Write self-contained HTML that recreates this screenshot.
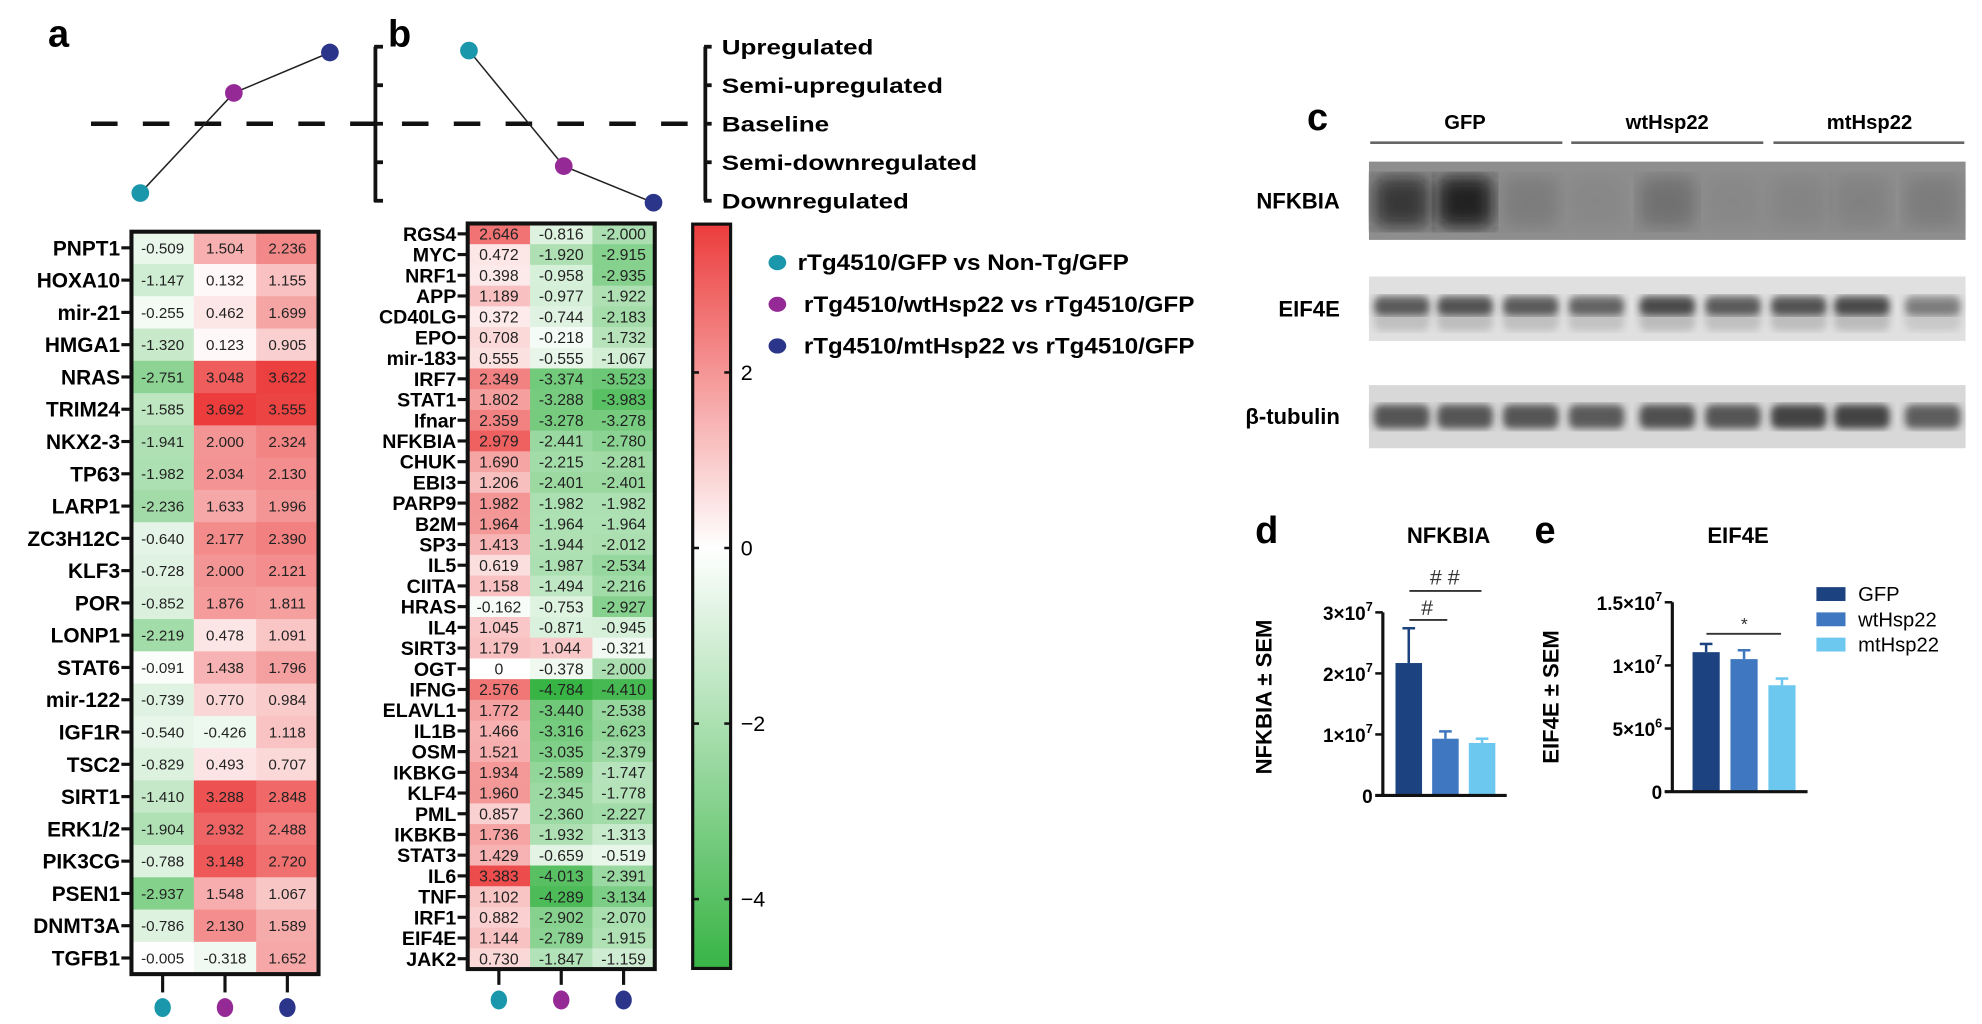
<!DOCTYPE html>
<html><head><meta charset="utf-8">
<style>
html,body{margin:0;padding:0;background:#fff;}
svg{display:block;}
text{font-family:"Liberation Sans",Arial,sans-serif;}
</style></head>
<body>
<svg id="fig" width="1982" height="1024" viewBox="0 0 1568 811" preserveAspectRatio="none" xmlns="http://www.w3.org/2000/svg">
<defs>
<linearGradient id="cbar" x1="0" y1="0" x2="0" y2="1">
<stop offset="0" stop-color="#ec3c3c"/>
<stop offset="0.435" stop-color="#ffffff"/>
<stop offset="1" stop-color="#38b445"/>
</linearGradient>
<filter id="blur3"><feGaussianBlur stdDeviation="3"/></filter>
<filter id="blur6"><feGaussianBlur stdDeviation="7"/></filter>
</defs>
</svg>
<script>
// ---------- DATA ----------
const aGenes=["PNPT1","HOXA10","mir-21","HMGA1","NRAS","TRIM24","NKX2-3","TP63","LARP1","ZC3H12C","KLF3","POR","LONP1","STAT6","mir-122","IGF1R","TSC2","SIRT1","ERK1/2","PIK3CG","PSEN1","DNMT3A","TGFB1"];
const aCol1=[-0.509,-1.147,-0.255,-1.320,-2.751,-1.585,-1.941,-1.982,-2.236,-0.640,-0.728,-0.852,-2.219,-0.091,-0.739,-0.540,-0.829,-1.410,-1.904,-0.788,-2.937,-0.786,-0.005];
const aCol2=[1.504,0.132,0.462,0.123,3.048,3.692,2.000,2.034,1.633,2.177,2.000,1.876,0.478,1.438,0.770,-0.426,0.493,3.288,2.932,3.148,1.548,2.130,-0.318];
const aCol3=[2.236,1.155,1.699,0.905,3.622,3.555,2.324,2.130,1.996,2.390,2.121,1.811,1.091,1.796,0.984,1.118,0.707,2.848,2.488,2.720,1.067,1.589,1.652];
const bGenes=["RGS4","MYC","NRF1","APP","CD40LG","EPO","mir-183","IRF7","STAT1","Ifnar","NFKBIA","CHUK","EBI3","PARP9","B2M","SP3","IL5","CIITA","HRAS","IL4","SIRT3","OGT","IFNG","ELAVL1","IL1B","OSM","IKBKG","KLF4","PML","IKBKB","STAT3","IL6","TNF","IRF1","EIF4E","JAK2"];
const bCol1=[2.646,0.472,0.398,1.189,0.372,0.708,0.555,2.349,1.802,2.359,2.979,1.690,1.206,1.982,1.964,1.413,0.619,1.158,-0.162,1.045,1.179,0,2.576,1.772,1.466,1.521,1.934,1.960,0.857,1.736,1.429,3.383,1.102,0.882,1.144,0.730];
const bCol2=[-0.816,-1.920,-0.958,-0.977,-0.744,-0.218,-0.555,-3.374,-3.288,-3.278,-2.441,-2.215,-2.401,-1.982,-1.964,-1.944,-1.987,-1.494,-0.753,-0.871,1.044,-0.378,-4.784,-3.440,-3.316,-3.035,-2.589,-2.345,-2.360,-1.932,-0.659,-4.013,-4.289,-2.902,-2.789,-1.847];
const bCol3=[-2.000,-2.915,-2.935,-1.922,-2.183,-1.732,-1.067,-3.523,-3.983,-3.278,-2.780,-2.281,-2.401,-1.982,-1.964,-2.012,-2.534,-2.216,-2.927,-0.945,-0.321,-2.000,-4.410,-2.538,-2.623,-2.379,-1.747,-1.778,-2.227,-1.313,-0.519,-2.391,-3.134,-2.070,-1.915,-1.159];
const cbTicks=[2,0,-2,-4];
const cbTickLabels=["2","0","\u22122","\u22124"];
const trendA=[-1.8,0.8,1.85];
const trendB=[1.9,-1.1,-2.05];
const scaleLabels=["Upregulated","Semi-upregulated","Baseline","Semi-downregulated","Downregulated"];
const groups=["GFP","wtHsp22","mtHsp22"];
const dValues=[2.17e7,0.93e7,0.86e7];
const dErr=[0.57e7,0.12e7,0.07e7];
const dTicks=[0,1e7,2e7,3e7];
const dTickBase=["0","1\u00d710","2\u00d710","3\u00d710"];
const dTickExp=["","7","7","7"];
const eValues=[1.105e7,1.05e7,0.843e7];
const eErr=[0.065e7,0.07e7,0.053e7];
const eTicks=[0,5e6,1e7,1.5e7];
const eTickBase=["0","5\u00d710","1\u00d710","1.5\u00d710"];
const eTickExp=["","6","7","7"];
const nfkbiaLanes=[0.75,0.95,0.15,0.05,0.25,0.05,0.08,0.1,0.15];
const eif4eLanes=[0.7,0.75,0.7,0.65,0.8,0.7,0.75,0.8,0.5];
const tubLanes=[0.75,0.75,0.75,0.72,0.78,0.75,0.85,0.85,0.7];

const SVG="http://www.w3.org/2000/svg";
const svg=document.getElementById('fig');
function el(tag,attrs,parent,txt){const e=document.createElementNS(SVG,tag);for(const k in attrs)e.setAttribute(k,attrs[k]);if(txt!==undefined)e.textContent=txt;(parent||svg).appendChild(e);return e;}
function grp(name){const g=el('g',{});return g;}
const C1="#1b97ab",C2="#952a97",C3="#2b3589";
const colCols=[C1,C2,C3];

const VMAX=3.69,VMIN=-4.79;
function heat(v){
  let r,g,b;
  if(v>=0){const t=Math.min(v/VMAX,1);r=255+(236-255)*t;g=255+(60-255)*t;b=255+(60-255)*t;}
  else{const t=Math.min(-v/(-VMIN),1);r=255+(56-255)*t;g=255+(180-255)*t;b=255+(69-255)*t;}
  return `rgb(${r|0},${g|0},${b|0})`;
}
function fmt(v){return v===0?"0":v.toFixed(3);}

[["a",38,37],["b",307,37],["c",1034,103],["d",993,430],["e",1214,430]].forEach(([t,x,y])=>{
  const e=el('text',{x:x,y:y,'font-size':30,'font-weight':'bold'},svg,t);
  
  
});

const dash=el('line',{x1:72,y1:98,x2:560,y2:98,stroke:'#111','stroke-width':3.5,'stroke-dasharray':'21 20'});


function levelY(l){return 98-l*30.5;}
function trend(xs,levels,name){
  const g=grp(name);
  const pts=xs.map((x,i)=>[x,levelY(levels[i])]);
  el('polyline',{points:pts.map(p=>p.join(',')).join(' '),fill:'none',stroke:'#222','stroke-width':1.2},g);
  pts.forEach((p,i)=>{const c=el('circle',{cx:p[0],cy:p[1],r:7,fill:colCols[i]},g);
    
    });
}
trend([111,185,261],trendA,'trend-a');
trend([371,446,517],trendB,'trend-b');
const br=grp('regulation-bracket-left');
el('line',{x1:297,y1:37,x2:297,y2:160,stroke:'#111','stroke-width':3},br);
[-2,-1,0,1,2].forEach(l=>el('line',{x1:296,y1:levelY(l),x2:303,y2:levelY(l),stroke:'#111','stroke-width':3},br));
const sc=grp('regulation-scale');
el('line',{x1:558,y1:37,x2:558,y2:159,stroke:'#111','stroke-width':3},sc);
const sLens=[120,175,85,202,148];
scaleLabels.forEach((t,i)=>{const l=2-i;const y=levelY(l);
  el('line',{x1:557,y1:y,x2:563,y2:y,stroke:'#111','stroke-width':3},sc);
  const tx=el('text',{x:571,y:y+6,'font-size':17,'font-weight':'bold',textLength:sLens[i],lengthAdjust:'spacingAndGlyphs'},sc,t);
  
  
});

function heatmap(name,x0,y0,y1,genes,cols,labelSize,valSize,stemTo,dotY){
  const g=grp(name);
  const W=148,cw=W/3,rh=(y1-y0)/genes.length;
  genes.forEach((gn,r)=>{
    const yc=y0+rh*(r+0.5);
    cols.forEach((col,c)=>{
      const v=col[r];
      const cell=el('rect',{x:x0+c*cw,y:y0+r*rh,width:cw+0.4,height:rh+0.4,fill:heat(v)},g);
      
      
      const t=el('text',{x:x0+c*cw+cw/2,y:yc+valSize*0.36,'font-size':valSize,'text-anchor':'middle',fill:'#222'},g,fmt(v));
      
      
    });
    const lb=el('text',{x:x0-9,y:yc+labelSize*0.36,'font-size':labelSize,'font-weight':'bold','text-anchor':'end'},g,gn);
    
    
    el('line',{x1:x0-8,y1:yc,x2:x0,y2:yc,stroke:'#111','stroke-width':2.5},g);
  });
  el('rect',{x:x0,y:y0,width:W,height:y1-y0,fill:'none',stroke:'#111','stroke-width':3.2},g);
  for(let c=0;c<3;c++){const xc=x0+c*cw+cw/2;
    el('line',{x1:xc,y1:y1,x2:xc,y2:stemTo,stroke:'#111','stroke-width':2.5},g);
    const d=el('ellipse',{cx:xc,cy:dotY,rx:6.5,ry:7.5,fill:colCols[c]},g);
    
    
  }
}
heatmap('heatmap-a',104,183.5,771.5,aGenes,[aCol1,aCol2,aCol3],16.5,12,786,798);
heatmap('heatmap-b',370,177,767.5,bGenes,[bCol1,bCol2,bCol3],15.5,12.5,780,792);

const cb=grp('colorbar');
const cbTop=177.5,cbBot=767;
function cbY(v){return cbTop+(VMAX-v)/(VMAX-VMIN)*(cbBot-cbTop);}
el('rect',{x:548,y:cbTop,width:30,height:cbBot-cbTop,fill:'url(#cbar)',stroke:'#111','stroke-width':2.5},cb);
cbTicks.forEach((v,i)=>{const y=cbY(v);
  el('line',{x1:548,y1:y,x2:553,y2:y,stroke:'#111','stroke-width':2},cb);
  el('line',{x1:573,y1:y,x2:578,y2:y,stroke:'#111','stroke-width':2},cb);
  const t=el('text',{x:586,y:y+6,'font-size':17},cb,cbTickLabels[i]);
  
  
});

const lg=grp('comparison-legend');
const legTxt=["rTg4510/GFP vs Non-Tg/GFP","rTg4510/wtHsp22 vs rTg4510/GFP","rTg4510/mtHsp22 vs rTg4510/GFP"];
const legLen=[262,309,309];const legX=[631,636,636];const legY=[208,241,274];
legTxt.forEach((t,i)=>{
  const d=el('ellipse',{cx:615,cy:legY[i],rx:7,ry:6,fill:colCols[i]},lg);
  
  
  const tx=el('text',{x:legX[i],y:legY[i]+6,'font-size':17.5,'font-weight':'bold',textLength:legLen[i],lengthAdjust:'spacingAndGlyphs'},lg,t);
  
  
});

const wb=grp('western-blot');
const laneX=[1109,1159,1211,1263,1319,1371,1423,1473,1529];
[["GFP",1159,1084,1236],["wtHsp22",1319,1243,1395],["mtHsp22",1479,1403,1554]].forEach(([t,xc,x1,x2])=>{
  const tx=el('text',{x:xc,y:102,'font-size':16,'font-weight':'bold','text-anchor':'middle'},wb,t);
  
  
  el('line',{x1:x1,y1:113,x2:x2,y2:113,stroke:'#666','stroke-width':2},wb);
});
function blot(name,label,y0,y1,bg,bandY,bandH,lanes,dark,blurId,smear){
  const g=grp(name);
  el('rect',{x:1083,y:y0,width:472,height:y1-y0,fill:bg},g);
  lanes.forEach((a,i)=>{
    if(smear){el('rect',{x:laneX[i]-22,y:bandY,width:44,height:smear,rx:6,fill:dark,opacity:a*0.25,filter:'url(#'+blurId+')'},g);}
    const b=el('rect',{x:laneX[i]-22,y:bandY-bandH/2,width:44,height:bandH,rx:6,fill:dark,opacity:a,filter:'url(#'+blurId+')'},g);
    
    
  });
  const t=el('text',{x:1060,y:(y0+y1)/2+6,'font-size':17.5,'font-weight':'bold','text-anchor':'end'},g,label);
  
  
}
blot('nfkbia-blot','NFKBIA',128,190,'#8e8e8e',160,40,nfkbiaLanes,'#1a1a1a','blur6',0);
blot('eif4e-blot','EIF4E',219,270,'#e0e0e0',242,15,eif4eLanes,'#2a2a2a','blur3',20);
blot('tubulin-blot','\u03b2-tubulin',305,355,'#d8d8d8',330,19,tubLanes,'#2a2a2a','blur3',0);

const barCols=["#1c4380","#3f78c0","#6dc8f0"];
function barChart(name,axX,top,base,maxV,ticks,tb,te,vals,errs,barX,bw,xEnd,title,titleX,ylabel,ylabX){
  const g=grp(name);
  const y=v=>base-(v/maxV)*(base-top);
  vals.forEach((v,i)=>{
    const b=el('rect',{x:barX[i],y:y(v),width:bw,height:base-y(v),fill:barCols[i]},g);
    
    
    const xc=barX[i]+bw/2;
    el('line',{x1:xc,y1:y(v),x2:xc,y2:y(v+errs[i]),stroke:barCols[i],'stroke-width':2},g);
    el('line',{x1:xc-5,y1:y(v+errs[i]),x2:xc+5,y2:y(v+errs[i]),stroke:barCols[i],'stroke-width':2},g);
  });
  el('line',{x1:axX,y1:top,x2:axX,y2:base,stroke:'#111','stroke-width':2.5},g);
  el('line',{x1:axX-6,y1:base,x2:xEnd,y2:base,stroke:'#111','stroke-width':2.5},g);
  ticks.forEach((v,i)=>{const yy=y(v);
    el('line',{x1:axX-6,y1:yy,x2:axX,y2:yy,stroke:'#111','stroke-width':2},g);
    const t=el('text',{x:axX-8,y:yy+6,'font-size':15,'font-weight':'bold','text-anchor':'end'},g);
    
    
    el('tspan',{},t,tb[i]);
    if(te[i]){el('tspan',{dy:-7,'font-size':10},t,te[i]);}
  });
  const tt=el('text',{x:titleX,y:430,'font-size':17.5,'font-weight':'bold','text-anchor':'middle'},g,title);
  
  
  const yl=el('text',{x:0,y:0,'font-size':17.5,'font-weight':'bold','text-anchor':'middle',transform:`translate(${ylabX},552) rotate(-90)`},g,ylabel);
  
  
  return y;
}
barChart('nfkbia-chart',1094,485,630,3e7,dTicks,dTickBase,dTickExp,dValues,dErr,[1104,1133,1162],21,1192,'NFKBIA',1146,'NFKBIA \u00b1 SEM',1006);
barChart('eif4e-chart',1323,477,627,1.5e7,eTicks,eTickBase,eTickExp,eValues,eErr,[1339,1369,1399],21.5,1430,'EIF4E',1375,'EIF4E \u00b1 SEM',1233);
const sg=grp('significance-marks');
el('line',{x1:1115,y1:468,x2:1172,y2:468,stroke:'#333','stroke-width':1.5},sg);
el('text',{x:1143,y:463,'font-size':17,'text-anchor':'middle',fill:'#333'},sg,'# #');
el('line',{x1:1115,y1:491,x2:1145,y2:491,stroke:'#333','stroke-width':1.5},sg);
el('text',{x:1129,y:487,'font-size':17,'text-anchor':'middle',fill:'#333'},sg,'#');
el('line',{x1:1350,y1:502,x2:1409,y2:502,stroke:'#333','stroke-width':1.5},sg);
el('text',{x:1380,y:499,'font-size':14,'text-anchor':'middle',fill:'#333'},sg,'*');
const bl=grp('bar-legend');
groups.forEach((gname,i)=>{
  const r=el('rect',{x:1437,y:465+i*20,width:23,height:11,fill:barCols[i]},bl);
  
  
  const t=el('text',{x:1470,y:476+i*20,'font-size':16},bl,gname);
  
  
});
</script>
</body></html>
